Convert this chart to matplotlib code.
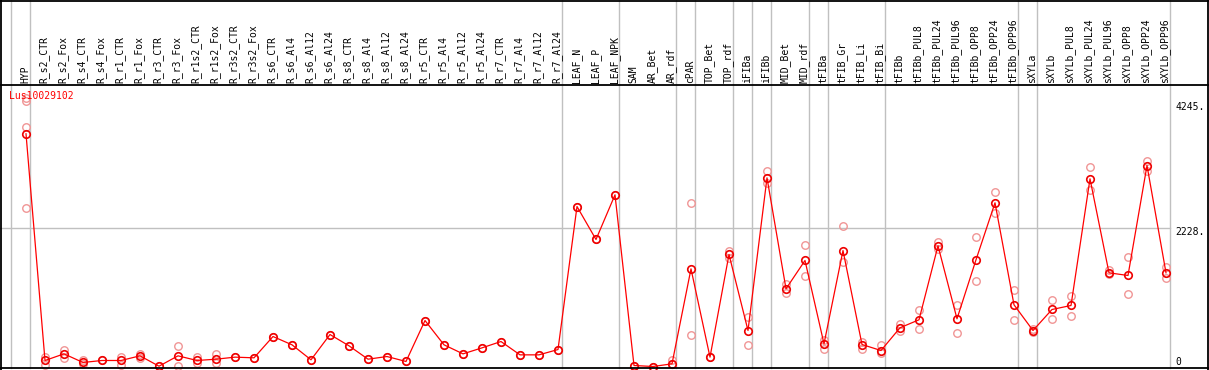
import matplotlib
matplotlib.use("Agg")
import matplotlib.pyplot as plt
import matplotlib.transforms as mtransforms
from matplotlib.lines import Line2D
import numpy as np

categories = ["HYP", "R_s2_CTR", "R_s2_Fox", "R_s4_CTR", "R_s4_Fox", "R_r1_CTR", "R_r1_Fox",
              "R_r3_CTR", "R_r3_Fox", "R_r1s2_CTR", "R_r1s2_Fox", "R_r3s2_CTR", "R_r3s2_Fox",
              "R_s6_CTR", "R_s6_Al4", "R_s6_Al12", "R_s6_Al24", "R_s8_CTR", "R_s8_Al4",
              "R_s8_Al12", "R_s8_Al24", "R_r5_CTR", "R_r5_Al4", "R_r5_Al12", "R_r5_Al24",
              "R_r7_CTR", "R_r7_Al4", "R_r7_Al12", "R_r7_Al24", "LEAF_N", "LEAF_P", "LEAF_NPK",
              "SAM", "AR_Bet", "AR_rdf", "cPAR", "TOP_Bet", "TOP_rdf", "iFIBa", "iFIBb",
              "MID_Bet", "MID_rdf", "tFIBa", "tFIB_Gr", "tFIB_Li", "tFIB_Bi", "tFIBb",
              "tFIBb_PUL8", "tFIBb_PUL24", "tFIBb_PUL96", "tFIBb_OPP8", "tFIBb_OPP24",
              "tFIBb_OPP96", "sXYLa", "sXYLb", "sXYLb_PUL8", "sXYLb_PUL24", "sXYLb_PUL96",
              "sXYLb_OPP8", "sXYLb_OPP24", "sXYLb_OPP96"]

means = [3756, 97, 204, 65, 97, 97, 172, 5, 172, 97, 118, 151, 140, 484, 350, 108, 516,
         334, 118, 161, 81, 742, 350, 204, 301, 403, 188, 188, 274, 2582, 2050, 2771,
         16, 0, 43, 1576, 151, 1808, 581, 3045, 1254, 1711, 366, 1872, 355, 258, 625,
         754, 1948, 770, 1722, 2642, 996, 581, 920, 985, 3029, 1512, 1469, 3244, 1512]

replicates = [[4330, 4290, 3873, 2561], [150, 32], [269, 134], [108, 43], [97], [161, 32],
              [194, 134], [5], [334, 11], [151, 54], [194, 54], [151], [140], [484], [350],
              [108], [516], [334], [118], [161], [81], [742], [350], [204], [301], [403],
              [188], [188], [274], [2582], [2050], [2771], [16], [0], [97, 43], [2642, 511],
              [151], [1872, 1748], [807, 350], [3163, 2958], [1335, 1183], [1969, 1464],
              [425, 290], [2260, 1683], [393, 290], [339, 215], [689, 570], [904, 608],
              [2006, 1899], [996, 544], [2098, 1372], [2824, 2474], [1238, 754], [600, 560],
              [1081, 770], [1130, 823], [3228, 2841], [1561, 1485], [1764, 1178],
              [3314, 3163], [1602, 1425]]

group_ends = [-1, 0, 28, 31, 34, 35, 37, 38, 39, 41, 42, 45, 52, 53, 60]
ytick_values = [4245, 2228, 0]
ytick_labels = ["4245.", "2228.", "0"]
gene_name = "Lus10029102"

W, H = 1209, 370
fig = plt.figure(figsize=(W / 100, H / 100), dpi=100)
fig.patch.set_facecolor("white")

# plot area in pixels
px_left, px_right = 1, 1170
py_top, py_bottom = 85, 368
ax = fig.add_axes([px_left / W, (H - py_bottom) / H,
                   (px_right - px_left) / W, (py_bottom - py_top) / H])
x0_px, step_px = 26, 19
ax.set_xlim((px_left - x0_px) / step_px, (px_right - x0_px) / step_px)
zero_px, units_per_px = 366.5, 16.14
ax.set_ylim(-(py_bottom - zero_px) * units_per_px, (zero_px - py_top) * units_per_px)
for s in ax.spines.values():
    s.set_visible(False)
ax.set_xticks([])
ax.set_yticks([])
ax.patch.set_alpha(0)

gray = "#c0c0c0"
top_frac = py_bottom / (py_bottom - py_top)
for g in group_ends:
    ax.axvline(g + 0.21, ymin=0, ymax=top_frac, color=gray, lw=1.0, clip_on=False, zorder=1)
ax.axhline(ytick_values[1], xmin=-0.01, xmax=1, color=gray, lw=1.0, clip_on=False, zorder=1)

x = np.arange(len(categories))
rx = [i for i, r in enumerate(replicates) for _ in r]
ry = [v for r in replicates for v in r]
ax.plot(rx, ry, linestyle="none", marker="o", markersize=5.4,
        markerfacecolor="none", markeredgecolor="#f09595", markeredgewidth=1.0,
        zorder=2, clip_on=False)
ax.plot(x, means, color="red", lw=0.9, zorder=3, clip_on=False)
ax.plot(x, means, linestyle="none", marker="o", markersize=5.4,
        markerfacecolor="none", markeredgecolor="#ee0000", markeredgewidth=1.2,
        zorder=4, clip_on=False)

font = dict(family="DejaVu Sans Mono", size=7)

# header labels
trans = mtransforms.blended_transform_factory(ax.transData, ax.transAxes)
label_y = (py_bottom - 83) / (py_bottom - py_top)
for i, c in enumerate(categories):
    ax.text(i - 0.05, label_y, c, transform=trans, rotation=90, ha="center", va="bottom",
            color="black", clip_on=False, **font)

# y labels on the right
offsets = [-4, -4, 4.5]
for v, lab, off in zip(ytick_values, ytick_labels, offsets):
    ax.annotate(lab, xy=(1.0, v), xycoords=("axes fraction", "data"),
                xytext=(5, off), textcoords="offset pixels", ha="left", va="center",
                color="black", annotation_clip=False, **font)

# gene name
fig.text(9 / W, 1 - 96 / H, gene_name, color="red", ha="left", va="center", **font)

# frame and header rule
fl = dict(color="black", lw=1.3, transform=fig.transFigure)
fig.add_artist(Line2D([0.5 / W, 0.5 / W], [0, 1], **fl))
fig.add_artist(Line2D([1 - 1.5 / W, 1 - 1.5 / W], [0, 1], **fl))
fig.add_artist(Line2D([0, 1], [1 - 0.5 / H, 1 - 0.5 / H], **fl))
fig.add_artist(Line2D([0, 1], [1 - 368 / H, 1 - 368 / H], **fl))
fig.add_artist(Line2D([0, 1], [1 - 85 / H, 1 - 85 / H], **fl))

fig.savefig("out.png", dpi=100, facecolor="white")
